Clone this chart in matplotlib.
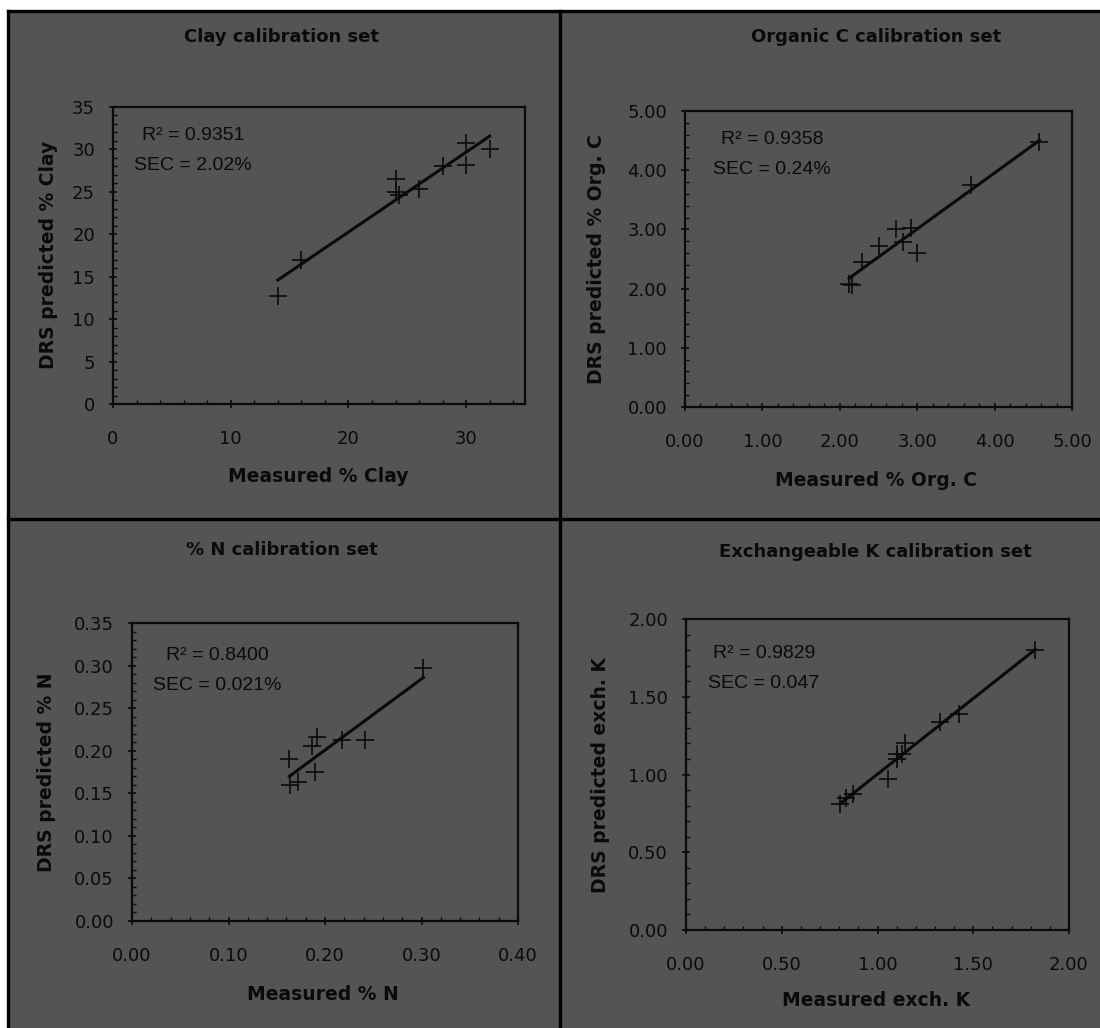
#!/usr/bin/env python
# DRS calibration sets: predicted vs measured, four panels (2x2)

import numpy as np
import matplotlib
matplotlib.use("Agg")
import matplotlib.pyplot as plt
from matplotlib.patches import Rectangle
from matplotlib.lines import Line2D
from matplotlib.ticker import MultipleLocator, AutoMinorLocator, FormatStrFormatter

# ---- data ----
clay_meas = [14, 16, 24, 24, 24.3, 26, 28, 30, 30, 32]
clay_pred = [12.7, 17.0, 26.5, 25.0, 24.6, 25.3, 28.0, 30.8, 28.2, 30.0]

orgc_meas = [2.12, 2.16, 2.29, 2.50, 2.72, 2.82, 2.92, 3.00, 3.69, 4.58]
orgc_pred = [2.07, 2.06, 2.45, 2.72, 3.00, 2.78, 3.03, 2.60, 3.75, 4.48]

n_meas = [0.163, 0.164, 0.172, 0.192, 0.187, 0.190, 0.218, 0.241, 0.302]
n_pred = [0.190, 0.160, 0.163, 0.216, 0.205, 0.175, 0.212, 0.213, 0.297]

k_meas = [0.803, 0.838, 0.873, 1.056, 1.103, 1.100, 1.130, 1.143, 1.325, 1.424, 1.824]
k_pred = [0.811, 0.850, 0.877, 0.972, 1.100, 1.130, 1.130, 1.203, 1.335, 1.391, 1.802]

titles = ["Clay calibration set", "Organic C calibration set",
          "% N calibration set", "Exchangeable K calibration set"]
xlabels = ["Measured % Clay", "Measured % Org. C", "Measured % N", "Measured exch. K"]
ylabels = ["DRS predicted % Clay", "DRS predicted % Org. C",
           "DRS predicted % N", "DRS predicted exch. K"]
r2_text = ["R\u00b2 = 0.9351", "R\u00b2 = 0.9358", "R\u00b2 = 0.8400", "R\u00b2 = 0.9829"]
sec_text = ["SEC = 2.02%", "SEC = 0.24%", "SEC = 0.021%", "SEC = 0.047"]

W, H = 1100, 1028
BG = "#545454"
INK = "#0a0a0a"

fig = plt.figure(figsize=(W / 100, H / 100), dpi=100, facecolor="white")

def fx(px):
    return px / W

def fy(py):
    return 1 - py / H

# grey panel area with black frame and dividers
fig.patches.append(Rectangle((fx(8), 0), 1 - fx(8), fy(11), transform=fig.transFigure,
                             facecolor=BG, edgecolor="none", zorder=-5))
for xs, ys in [([fx(7.5), fx(7.5)], [0, fy(11)]),
               ([fx(7.5), 1], [fy(11), fy(11)]),
               ([fx(560), fx(560)], [0, fy(11)]),
               ([fx(7.5), 1], [fy(519), fy(519)])]:
    fig.lines.append(Line2D(xs, ys, transform=fig.transFigure, color="black", lw=2.4, zorder=-4))

# per panel: axes box (left, top, right, bottom px), limits, tick step, format
panels = [
    dict(box=(113, 107, 525, 404), xlim=(0, 35), ylim=(0, 35), xstep=10, ystep=5, fmt="%d",
         x=clay_meas, y=clay_pred, title=(282, 37), xl=(318, 477), yl=(49, 255), note=(193, 135)),
    dict(box=(685, 111, 1072, 407), xlim=(0, 5), ylim=(0, 5), xstep=1, ystep=1, fmt="%.2f",
         x=orgc_meas, y=orgc_pred, title=(876, 37), xl=(876, 481), yl=(597, 259), note=(772, 139)),
    dict(box=(132, 623, 518, 921), xlim=(0, 0.4), ylim=(0, 0.35), xstep=0.1, ystep=0.05, fmt="%.2f",
         x=n_meas, y=n_pred, title=(282, 550), xl=(323, 995), yl=(47, 772), note=(217, 655)),
    dict(box=(686, 619, 1069, 930), xlim=(0, 2), ylim=(0, 2), xstep=0.5, ystep=0.5, fmt="%.2f",
         x=k_meas, y=k_pred, title=(875, 552), xl=(876, 1000), yl=(601, 775), note=(764, 653)),
]

for i, p in enumerate(panels):
    l, t, r, b = p["box"]
    ax = fig.add_axes([fx(l), fy(b), fx(r - l), (b - t) / H])
    ax.set_zorder(2)
    ax.set_facecolor(BG)
    for s in ax.spines.values():
        s.set_color(INK)
        s.set_linewidth(1.6)

    x = np.array(p["x"])
    y = np.array(p["y"])
    ax.plot(x, y, linestyle="none", marker="+", markersize=13, mew=1.2, color=INK, zorder=3)

    # linear trendline
    m, c = np.polyfit(x, y, 1)
    xs = np.array([x.min(), x.max()])
    ax.plot(xs, m * xs + c, color=INK, lw=2.2, zorder=2)

    ax.set_xlim(*p["xlim"])
    ax.set_ylim(*p["ylim"])
    ax.xaxis.set_major_locator(MultipleLocator(p["xstep"]))
    ax.yaxis.set_major_locator(MultipleLocator(p["ystep"]))
    ax.xaxis.set_minor_locator(AutoMinorLocator(5))
    ax.yaxis.set_minor_locator(AutoMinorLocator(5))
    ax.xaxis.set_major_formatter(FormatStrFormatter(p["fmt"]))
    ax.yaxis.set_major_formatter(FormatStrFormatter(p["fmt"]))
    if i == 0:
        ax.set_xticks([0, 10, 20, 30])
    ax.tick_params(which="major", direction="inout", length=6, width=1.2, color=INK,
                   labelsize=13, labelcolor=INK)
    ax.tick_params(which="minor", direction="in", length=3, width=1.0, color=INK)
    ax.tick_params(axis="x", which="major", pad=16)
    ax.tick_params(axis="y", which="major", pad=10)

    fig.text(fx(p["title"][0]), fy(p["title"][1]), titles[i], ha="center", va="center",
             fontsize=13, fontweight="bold", color=INK)
    fig.text(fx(p["xl"][0]), fy(p["xl"][1]), xlabels[i], ha="center", va="center",
             fontsize=13.5, fontweight="bold", color=INK)
    fig.text(fx(p["yl"][0]), fy(p["yl"][1]), ylabels[i], ha="center", va="center",
             rotation=90, fontsize=13.5, fontweight="bold", color=INK)

    nx, ny = p["note"]
    fig.text(fx(nx), fy(ny), r2_text[i], ha="center", va="center",
             fontsize=14, family="Liberation Sans", color=INK)
    fig.text(fx(nx), fy(ny + 30), sec_text[i], ha="center", va="center",
             fontsize=14, family="Liberation Sans", color=INK)

fig.savefig("out.png", dpi=100, facecolor="white")
